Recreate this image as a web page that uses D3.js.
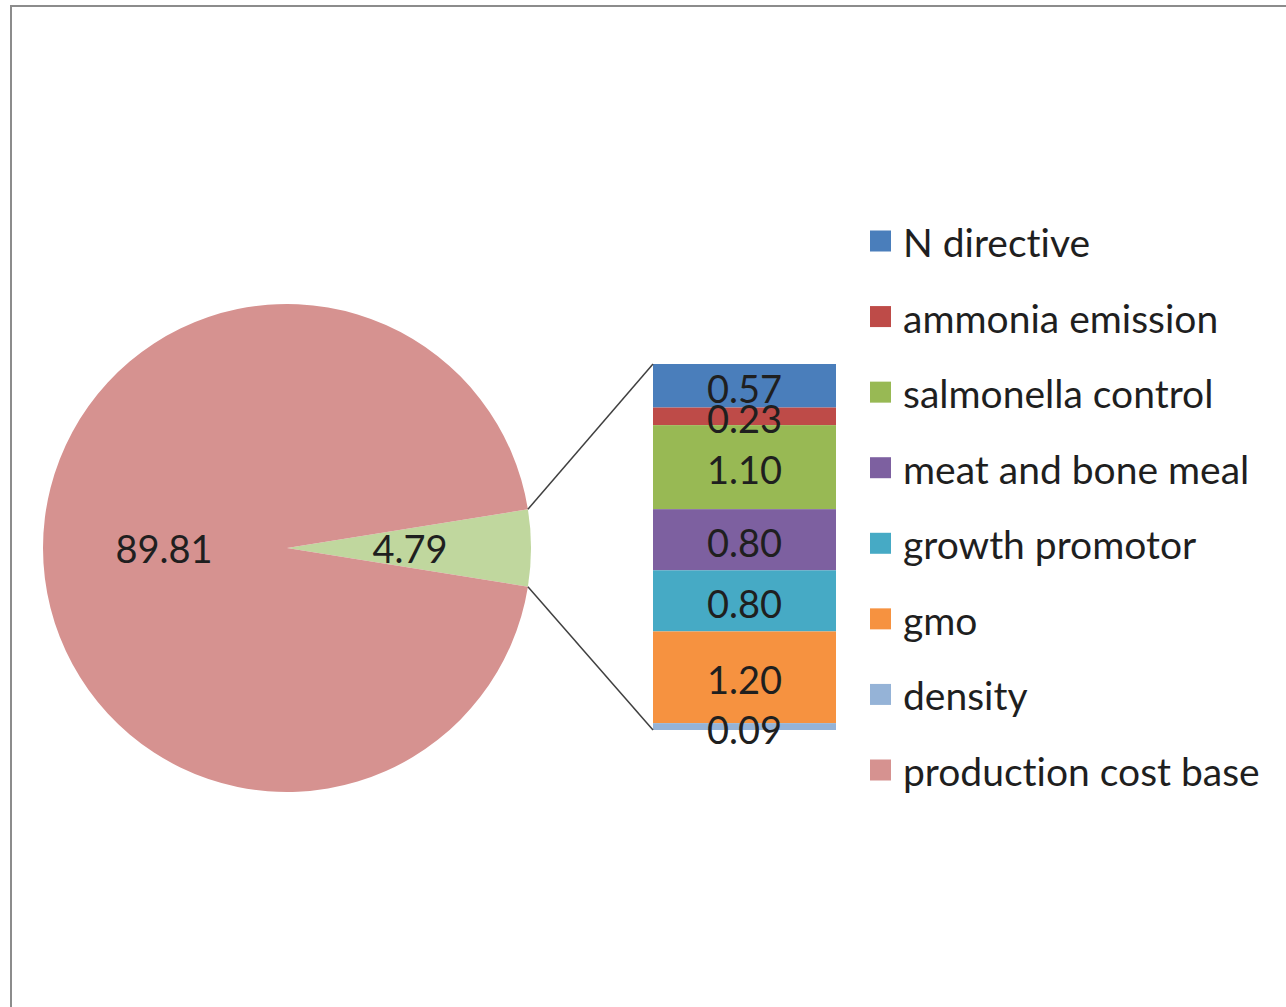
<!DOCTYPE html>
<html>
<head>
<meta charset="utf-8">
<script src="https://cdn.jsdelivr.net/npm/d3@7"></script>
<style>
  html, body { margin: 0; padding: 0; background: #fff; }
  svg { display: block; }
  text { font-family: Lato, "Open Sans", sans-serif; font-variant-ligatures: none; }
</style>
</head>
<body>
<svg id="chart" width="1286" height="1007"></svg>
<script>
// ---- data ----
const pieCategories = ["other", "production cost base"];
const pieValues = [4.79, 89.81];
const pieLabels = ["4.79", "89.81"];

const barCategories = ["N directive", "ammonia emission", "salmonella control", "meat and bone meal", "growth promotor", "gmo", "density"];
const barValues = [0.57, 0.23, 1.10, 0.80, 0.80, 1.20, 0.09];
const barLabels = ["0.57", "0.23", "1.10", "0.80", "0.80", "1.20", "0.09"];

const legendItems = ["N directive", "ammonia emission", "salmonella control", "meat and bone meal", "growth promotor", "gmo", "density", "production cost base"];

// ---- styles ----
const barColors = ["#4A7EBB", "#BE4B48", "#98B954", "#7D60A0", "#46AAC5", "#F69240", "#95B3D7"];
const pieColors = ["#C0D79E", "#D69290"];
const legendColors = barColors.concat(["#D69290"]);

const svg = d3.select("#chart");

// frame (cropped chart area border)
svg.append("path")
  .attr("d", "M11,1007 L11,6 L1286,6")
  .attr("fill", "none")
  .attr("stroke", "#8c8c8c")
  .attr("stroke-width", 2);

// ---- pie ----
const cx = 287, cy = 548, R = 244;
const total = d3.sum(pieValues);
const half = Math.PI * pieValues[0] / total;
const pie = d3.pie().sort(null).value(d => d)
  .startAngle(Math.PI / 2 - half)
  .endAngle(Math.PI / 2 - half + 2 * Math.PI);
const arcs = pie(pieValues);
const arc = d3.arc().innerRadius(0).outerRadius(R);
const labelArc = d3.arc().innerRadius(123).outerRadius(123);

const gPie = svg.append("g").attr("transform", `translate(${cx},${cy})`);
gPie.selectAll("path.slice").data(arcs).enter().append("path")
  .attr("class", "slice")
  .attr("d", arc)
  .attr("fill", (d, i) => pieColors[i]);

gPie.selectAll("text.plabel").data(arcs).enter().append("text")
  .attr("class", "plabel")
  .attr("transform", d => `translate(${labelArc.centroid(d)})`)
  .attr("text-anchor", "middle")
  .attr("dominant-baseline", "central")
  .attr("font-size", 38)
  .attr("fill", "#1f1f1f")
  .text((d, i) => pieLabels[i]);

// ---- bar of pie ----
const barX0 = 653, barX1 = 836;
const y = d3.scaleLinear().domain([0, d3.sum(barValues)]).range([364, 730]);
let acc = 0;
const stack = barValues.map((v, i) => { const s = acc; acc += v; return { i, y0: s, y1: acc }; });

const gBar = svg.append("g");
gBar.selectAll("rect").data(stack).enter().append("rect")
  .attr("x", barX0)
  .attr("width", barX1 - barX0)
  .attr("y", d => y(d.y0))
  .attr("height", d => y(d.y1) - y(d.y0))
  .attr("fill", d => barColors[d.i]);

gBar.selectAll("text").data(stack).enter().append("text")
  .attr("x", (barX0 + barX1) / 2)
  .attr("y", d => (y(d.y0) + y(d.y1)) / 2 + 2)
  .attr("text-anchor", "middle")
  .attr("dominant-baseline", "central")
  .attr("font-size", 38)
  .attr("fill", "#1f1f1f")
  .text(d => barLabels[d.i]);

// connector lines
const a0 = arcs[0].startAngle, a1 = arcs[0].endAngle;
const p0 = [cx + R * Math.sin(a0), cy - R * Math.cos(a0)];
const p1 = [cx + R * Math.sin(a1), cy - R * Math.cos(a1)];
svg.append("line").attr("x1", p0[0]).attr("y1", p0[1]).attr("x2", barX0).attr("y2", y(0))
  .attr("stroke", "#404040").attr("stroke-width", 1.5);
svg.append("line").attr("x1", p1[0]).attr("y1", p1[1]).attr("x2", barX0).attr("y2", y(d3.sum(barValues)))
  .attr("stroke", "#404040").attr("stroke-width", 1.5);

// ---- legend ----
const ly = d3.scaleLinear().domain([0, legendItems.length - 1]).range([241, 770]);
const gLeg = svg.append("g");
const items = gLeg.selectAll("g").data(legendItems).enter().append("g")
  .attr("transform", (d, i) => `translate(870,${ly(i)})`);
items.append("rect")
  .attr("x", 0).attr("y", -10.5).attr("width", 21).attr("height", 21)
  .attr("fill", (d, i) => legendColors[i]);
items.append("text")
  .attr("x", 33).attr("y", 1)
  .attr("dominant-baseline", "central")
  .attr("font-size", 39)
  .attr("fill", "#1f1f1f")
  .text(d => d);
</script>
</body>
</html>
